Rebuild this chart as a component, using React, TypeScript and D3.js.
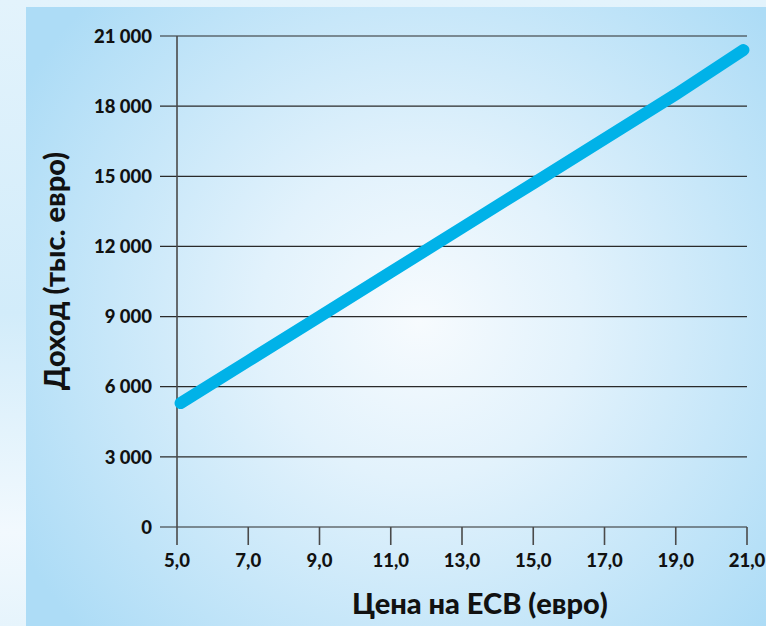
import React from 'react';
import * as d3 from 'd3';

const prices = [5.1, 7, 9, 11, 13, 15, 17, 19, 20.9];
const revenue = [5300, 7100, 9000, 10900, 12800, 14700, 16600, 18500, 20400];
const yTicks = [0, 3000, 6000, 9000, 12000, 15000, 18000, 21000];
const xTicks = [5, 7, 9, 11, 13, 15, 17, 19, 21];

const W = 766;
const H = 626;
const margin = { left: 177, right: 19, top: 36, bottom: 99 };

const fmtY = (v: number) => d3.format(',')(v).replace(/,/g, ' ');
const fmtX = (v: number) => v.toFixed(1).replace('.', ',');

export default function App() {
  const x = d3.scaleLinear().domain([5, 21]).range([margin.left, W - margin.right]);
  const y = d3.scaleLinear().domain([0, 21000]).range([H - margin.bottom, margin.top]);
  const line = d3.line<number>()
    .x((_, i) => x(prices[i]))
    .y(d => y(d));
  const font = "Lato, 'Open Sans', sans-serif";

  return (
    <svg width={W} height={H} style={{ position: 'absolute', left: 0, top: 0 }}>
      <defs>
        <linearGradient id="sky" x1="0" y1="0" x2="0" y2="1">
          <stop offset="0" stopColor="#e3f3fc" />
          <stop offset="0.5" stopColor="#d2ecfa" />
          <stop offset="0.85" stopColor="#f2f9fe" />
          <stop offset="1" stopColor="#e6f4fc" />
        </linearGradient>
        <radialGradient id="panel" cx="420" cy="320" r="460" gradientUnits="userSpaceOnUse">
          <stop offset="0" stopColor="#f7fbfe" />
          <stop offset="0.35" stopColor="#e2f2fc" />
          <stop offset="1" stopColor="#addcf6" />
        </radialGradient>
      </defs>
      <rect width={W} height={H} fill="url(#sky)" />
      <rect x={26} y={7} width={W - 26} height={H - 7} fill="url(#panel)" />

      {/* gridlines */}
      {yTicks.map(t => (
        <line key={t} x1={160} x2={x(21)} y1={y(t)} y2={y(t)} stroke="#2a2a2a" strokeWidth={1.2} />
      ))}
      {/* y axis */}
      <line x1={x(5)} x2={x(5)} y1={y(21000)} y2={y(0) + 18} stroke="#4a4a4a" strokeWidth={1.6} />
      {xTicks.slice(1).map(t => (
        <line key={t} x1={x(t)} x2={x(t)} y1={y(0)} y2={y(0) + 18} stroke="#4a4a4a" strokeWidth={1.6} />
      ))}

      {yTicks.map(t => (
        <text key={t} x={152} y={y(t)} dy="0.36em" textAnchor="end" fontFamily={font}
          fontWeight={900} fontSize={18.5} fill="#111">{fmtY(t)}</text>
      ))}
      {xTicks.map(t => (
        <text key={t} x={x(t)} y={567} textAnchor="middle" fontFamily={font}
          fontWeight={900} fontSize={18.5} fill="#111">{fmtX(t)}</text>
      ))}

      <path d={line(revenue) || ''} fill="none" stroke="#00b2e8" strokeWidth={12} strokeLinecap="round" />

      <text x={480} y={614} textAnchor="middle" fontFamily={font} fontWeight={900}
        fontSize={29} fill="#111">Цена на ECB (евро)</text>
      <text transform={`translate(65,271) rotate(-90)`} textAnchor="middle" fontFamily={font}
        fontWeight={900} fontSize={29} fill="#111">Доход (тыс. евро)</text>
    </svg>
  );
}
